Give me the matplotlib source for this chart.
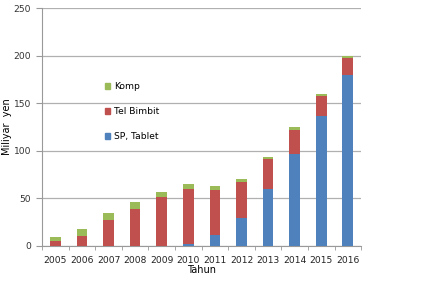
import matplotlib
matplotlib.use("Agg")
import matplotlib.pyplot as plt
import numpy as np
from matplotlib.patches import Patch

years = ["2005", "2006", "2007", "2008", "2009", "2010", "2011", "2012", "2013", "2014", "2015", "2016"]
sp_tablet = [0, 0, 0, 0, 0, 2, 11, 29, 60, 97, 137, 180]
tel_bimbit = [5, 10, 27, 39, 51, 58, 48, 38, 31, 25, 21, 18]
komp = [4, 8, 8, 7, 6, 5, 4, 3, 3, 3, 2, 2]

c_blue = "#4F81BD"
c_red = "#C0504D"
c_green = "#9BBB59"

plt.rcParams['font.family'] = ['DejaVu Sans']
fig = plt.figure(figsize=(4.48, 2.83), dpi=100)
ax = fig.add_axes([0.094, 0.131, 0.712, 0.840])

x = np.arange(len(years))
w = 0.4
b1 = np.array(sp_tablet)
b2 = b1 + np.array(tel_bimbit)
ax.bar(x, sp_tablet, w, color=c_blue, zorder=3)
ax.bar(x, tel_bimbit, w, bottom=b1, color=c_red, zorder=3)
ax.bar(x, komp, w, bottom=b2, color=c_green, zorder=3)

ax.set_xlim(-0.5, len(years) - 0.5)
ax.set_ylim(0, 250)
ax.set_yticks([0, 50, 100, 150, 200, 250])
ax.yaxis.grid(True, color="#B0B0B0", linewidth=0.9, zorder=0)
ax.set_xticks(x)
ax.set_xticklabels(years)
ax.set_xticks(np.arange(-0.5, len(years), 1), minor=True)
ax.tick_params(axis='x', which='major', length=0, labelsize=6.6, pad=7, colors="#222222")
ax.tick_params(axis='x', which='minor', length=3, color="#999999", direction='out')
ax.tick_params(axis='y', length=4, color="#999999", labelsize=6.6, colors="#333333", pad=4)
for s in ["top", "right"]:
    ax.spines[s].set_visible(False)
ax.spines["left"].set_color("#999999")
ax.spines["bottom"].set_color("#999999")

ax.set_xlabel("Tahun", fontsize=7, labelpad=0)
ax.set_ylabel("Miliyar  yen", fontsize=7)
ax.yaxis.set_label_coords(-0.094, 0.5)

handles = [Patch(color=c_green, label="Komp"),
           Patch(color=c_red, label="Tel Bimbit"),
           Patch(color=c_blue, label="SP, Tablet")]
leg = ax.legend(handles=handles, loc="upper left", bbox_to_anchor=(0.17, 0.725),
                frameon=False, fontsize=6.6, handlelength=0.6, handleheight=0.6,
                handletextpad=0.4, labelspacing=1.75)

fig.savefig("out.png", dpi=100)
